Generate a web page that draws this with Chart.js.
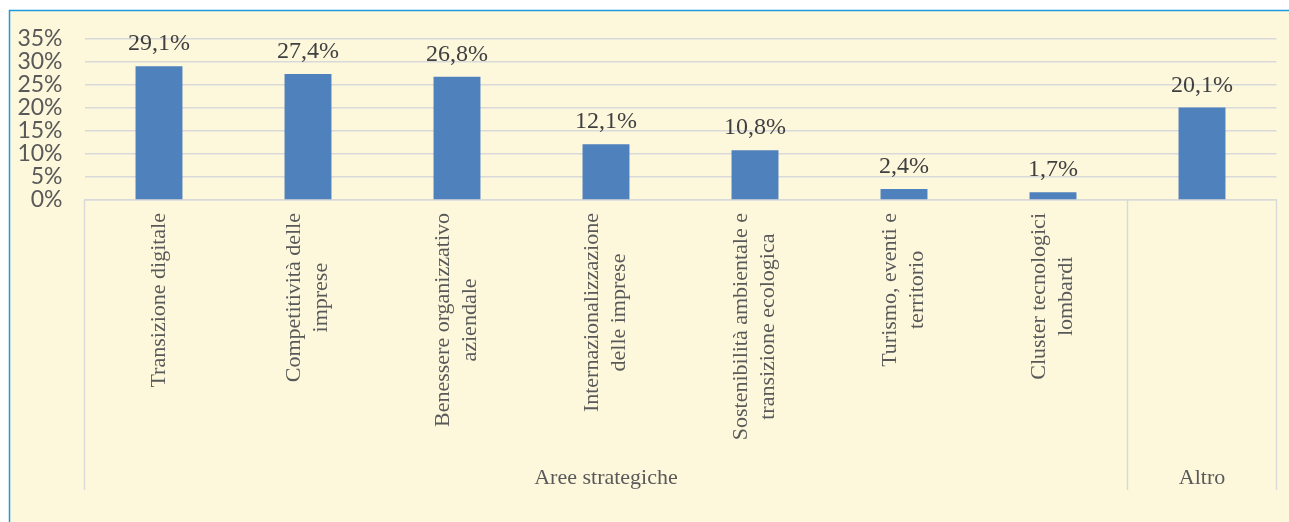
<!DOCTYPE html>
<html>
<head>
<meta charset="utf-8">
<script src="https://cdn.jsdelivr.net/npm/chart.js@4"></script>
<style>
  html, body { margin: 0; padding: 0; background: #ffffff; }
  #wrap { position: relative; width: 1289px; height: 522px; }
</style>
</head>
<body>
<div id="wrap"><canvas id="chart" width="1289" height="522"></canvas></div>
<script>
// Dati del grafico
const categories = [
  ['Transizione digitale'],
  ['Competitività delle', 'imprese'],
  ['Benessere organizzativo', 'aziendale'],
  ['Internazionalizzazione', 'delle imprese'],
  ['Sostenibilità ambientale e', 'transizione ecologica'],
  ['Turismo, eventi e', 'territorio'],
  ['Cluster tecnologici', 'lombardi'],
  ['']
];
const values = [29.1, 27.4, 26.8, 12.1, 10.8, 2.4, 1.7, 20.1];
const groupLabels = ['Aree strategiche', 'Altro'];
const groupSizes = [7, 1];
const yTicks = [0, 5, 10, 15, 20, 25, 30, 35];

const gridColor = '#d9d9d9';

// Sfondo del pannello con bordo blu
const panelBg = {
  id: 'panelBg',
  beforeDraw(chart) {
    const c = chart.ctx;
    c.save();
    c.fillStyle = '#ffffff';
    c.fillRect(0, 0, chart.width, chart.height);
    c.fillStyle = '#fdf8dc';
    c.fillRect(9, 10, chart.width - 9, chart.height - 10);
    c.strokeStyle = '#1e9be0';
    c.lineWidth = 1.5;
    c.beginPath();
    c.moveTo(9.5, chart.height);
    c.lineTo(9.5, 10.5);
    c.lineTo(chart.width, 10.5);
    c.stroke();
    c.restore();
  }
};

// Etichette delle categorie, gruppi e valori
const labelsPlugin = {
  id: 'labelsPlugin',
  afterDraw(chart) {
    const c = chart.ctx;
    const xs = chart.scales.x;
    const area = chart.chartArea;
    const slot = xs.width / categories.length;
    c.save();

    // valori sopra le barre
    const meta = chart.getDatasetMeta(0);
    c.fillStyle = '#404040';
    c.font = '24px "Liberation Serif"';
    c.textAlign = 'center';
    c.textBaseline = 'alphabetic';
    meta.data.forEach((bar, i) => {
      c.fillText(values[i].toFixed(1).replace('.', ',') + '%', bar.x, bar.y - 16);
    });

    // etichette ruotate delle categorie
    c.fillStyle = '#595959';
    c.font = '22px "Liberation Serif"';
    const lineH = 27;
    categories.forEach((lines, i) => {
      const x = xs.getPixelForValue(i);
      const w = Math.max(...lines.map(l => c.measureText(l).width));
      c.save();
      c.translate(x, area.bottom + 13);
      c.rotate(-Math.PI / 2);
      c.textAlign = 'center';
      c.textBaseline = 'middle';
      lines.forEach((l, j) => {
        c.fillText(l, -w / 2, (j - (lines.length - 1) / 2) * lineH);
      });
      c.restore();
    });

    // linee e nomi dei gruppi
    c.strokeStyle = gridColor;
    c.lineWidth = 1.5;
    c.font = '22px "Liberation Serif"';
    c.textAlign = 'center';
    c.textBaseline = 'middle';
    let start = 0;
    const bottom = 490;
    const edges = [xs.getPixelForValue(0) - slot / 2];
    groupSizes.forEach((n, g) => {
      const x0 = xs.getPixelForValue(start) - slot / 2;
      const x1 = xs.getPixelForValue(start + n - 1) + slot / 2;
      edges.push(x1);
      c.fillText(groupLabels[g], (x0 + x1) / 2, 478);
      start += n;
    });
    c.beginPath();
    edges.forEach(ex => {
      c.moveTo(ex, area.bottom);
      c.lineTo(ex, bottom);
    });
    c.stroke();
    c.restore();
  }
};

new Chart(document.getElementById('chart'), {
  type: 'bar',
  data: {
    labels: categories.map(l => l.join(' ')),
    datasets: [{
      data: values,
      backgroundColor: '#4f81bd',
      categoryPercentage: 1,
      barPercentage: 0.315
    }]
  },
  options: {
    responsive: false,
    animation: false,
    layout: { padding: { top: 39, right: 12.5, left: 0, bottom: 0 } },
    plugins: { legend: { display: false }, tooltip: { enabled: false } },
    scales: {
      x: {
        ticks: { display: false },
        grid: { display: false },
        border: { color: gridColor, width: 1.5 },
        afterFit(scale) { scale.height = 322; }
      },
      y: {
        min: 0,
        max: 35,
        afterBuildTicks(scale) { scale.ticks = yTicks.map(v => ({ value: v })); },
        ticks: {
          autoSkip: false,
          padding: 22,
          color: '#595959',
          font: { family: 'Lato', size: 23 },
          callback: v => v + '%'
        },
        grid: { color: gridColor, lineWidth: 1.5, drawTicks: false },
        border: { display: false },
        afterFit(scale) { scale.width = 84.5; }
      }
    }
  },
  plugins: [panelBg, labelsPlugin]
});
</script>
</body>
</html>
